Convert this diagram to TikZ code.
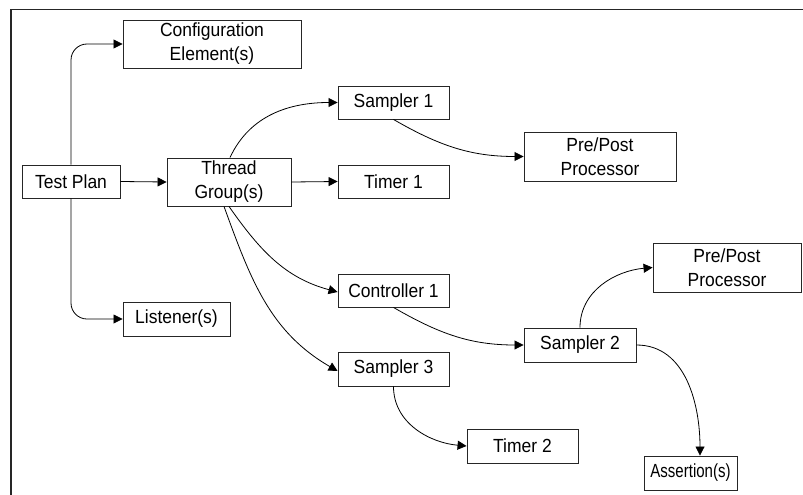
\documentclass[tikz,border=0pt]{standalone}
\usepackage{fontspec}
\usepackage{graphicx}
\setmainfont{Liberation Sans}[FakeStretch=0.92]
\usetikzlibrary{arrows.meta}
\begin{document}
\begin{tikzpicture}[x=1pt,y=-1pt,
  box/.style={draw=black!85,line width=0.9pt,inner sep=0pt,align=center,
    font=\fontsize{19}{24}\selectfont},
  conn/.style={draw=black,line width=0.8pt,-{Triangle[length=9pt,width=9pt]}}]
\useasboundingbox (0,0) rectangle (803,495);
\draw[line width=1.2pt,black!85] (11,495) -- (11,9.5) -- (803,9.5);
\node[box,minimum width=178pt,minimum height=48pt] (config) at (212,44) {Configuration\\Element(s)};
\node[box,minimum width=98pt,minimum height=33pt] (tp) at (71,181.5) {Test Plan};
\node[box,minimum width=124pt,minimum height=48pt] (tg) at (229,182) {Thread\\Group(s)};
\node[box,minimum width=111pt,minimum height=33pt] (s1) at (393.5,102.5) {Sampler 1};
\node[box,minimum width=111pt,minimum height=33pt] (t1) at (393.5,181.5) {Timer 1};
\node[box,minimum width=152pt,minimum height=49pt] (pp1) at (600,156.5) {Pre/Post\\Processor};
\node[box,minimum width=111pt,minimum height=33pt] (c1) at (393.5,290.5) {Controller 1};
\node[box,minimum width=107pt,minimum height=34pt] (lis) at (176.5,319) {Listener(s)};
\node[box,minimum width=111pt,minimum height=34pt] (s3) at (393.5,369) {Sampler 3};
\node[box,minimum width=112pt,minimum height=34pt] (s2) at (580,345) {Sampler 2};
\node[box,minimum width=148pt,minimum height=49pt] (pp2) at (727,267.5) {Pre/Post\\Processor};
\node[box,minimum width=111pt,minimum height=34pt] (t2) at (522.5,446) {Timer 2};
\node[box,minimum width=93pt,minimum height=34pt] (as) at (690.5,473) {\scalebox{0.86}[1]{Assertion(s)}};

\draw[conn,rounded corners=16pt] (tp.north) |- (config.west);
\draw[conn,rounded corners=16pt] (tp.south) |- (lis.west);
\draw[conn] (tp.east) -- (tg.west);
\draw[conn] (tg.east) -- (t1.west);
\draw[conn] ([xshift=1pt]tg.north) to[out=65,in=180] (s1.west);
\draw[conn] (tg.south) to[out=-55,in=165] ([yshift=-1.5pt]c1.west);
\draw[conn] ([xshift=-5pt]tg.south) to[out=-70,in=150] ([yshift=-2pt]s3.west);
\draw[conn] (s1.south) to[out=-30,in=180] (pp1.west);
\draw[conn] (c1.south) to[out=-30,in=180] (s2.west);
\draw[conn] (s3.south) to[out=-90,in=175] (t2.west);
\draw[conn] (s2.north) to[out=90,in=185] (pp2.west);
\draw[conn] (s2.east) to[out=0,in=90] ([xshift=9.5pt]as.north);
\end{tikzpicture}
\end{document}
